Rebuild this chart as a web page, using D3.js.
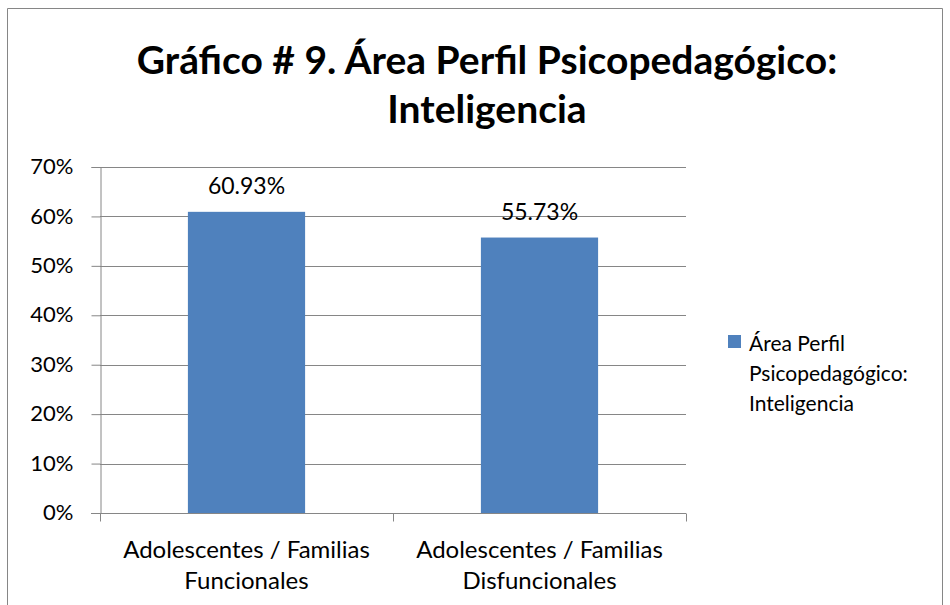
<!DOCTYPE html>
<meta charset="utf-8">
<script src="https://d3js.org/d3.v7.min.js"></script>
<style>
  body { margin: 0; background: #fff; }
  text { font-family: Lato, "Open Sans", sans-serif; fill: #000; }
</style>
<div id="chart"></div>
<script>

// data
var categories = ["Adolescentes / Familias Funcionales", "Adolescentes / Familias Disfuncionales"];
var categoryLines = [["Adolescentes / Familias", "Funcionales"], ["Adolescentes / Familias", "Disfuncionales"]];
var values = [60.93, 55.73];
var yTicks = [0, 10, 20, 30, 40, 50, 60, 70];
var seriesName = ["Área Perfil", "Psicopedagógico:", "Inteligencia"];
var titleLines = ["Gráfico # 9. Área Perfil Psicopedagógico:", "Inteligencia"];

var W = 950, H = 605;
var margin = {top: 167, right: 264, bottom: 92, left: 100},
    width = 686 - margin.left,
    height = 513 - margin.top;

var svg = d3.select("#chart")
  .append("svg")
    .attr("width", W)
    .attr("height", H);

// outer chart border
svg.append("path")
  .attr("d", "M7.5,605 V8.5 H942.5 V605")
  .attr("fill", "none")
  .attr("stroke", "#868686")
  .attr("stroke-width", 1);

// title
svg.append("text")
  .attr("text-anchor", "middle")
  .style("font-size", "39px").style("font-weight", "bold")
  .selectAll("tspan")
  .data(titleLines)
  .join("tspan")
    .attr("x", 487)
    .attr("y", function(d, i) { return 74 + i * 49; })
    .text(function(d) { return d; });

var g = svg.append("g")
  .attr("transform", "translate(" + margin.left + "," + margin.top + ")");

var x = d3.scaleBand()
  .domain(categories)
  .range([0, width])
  .paddingInner(0.6)
  .paddingOuter(0.3);

var y = d3.scaleLinear()
  .domain([0, 70])
  .range([height, 0]);

// gridlines
g.append("g")
  .selectAll("line")
  .data(yTicks)
  .join("line")
    .attr("x1", 0).attr("x2", width)
    .attr("y1", function(d) { return Math.round(y(d)) + 0.5; })
    .attr("y2", function(d) { return Math.round(y(d)) + 0.5; })
    .attr("stroke", "#868686");

// y axis
var yAxis = g.append("g")
  .attr("transform", "translate(0.5,0)")
  .call(d3.axisLeft(y).tickValues(yTicks).tickSize(9).tickPadding(18)
    .tickFormat(function(d) { return d + "%"; }));
yAxis.selectAll("line, path").attr("stroke", "#868686");
yAxis.selectAll("text").style("font-size", "22px").style("font-family", "Lato").attr("dy", "0.3em");

// bars
g.selectAll("rect")
  .data(values)
  .join("rect")
    .attr("x", function(d, i) { return x(categories[i]); })
    .attr("y", function(d) { return y(d); })
    .attr("width", x.bandwidth())
    .attr("height", function(d) { return height - y(d); })
    .attr("fill", "#4F81BD");

// value labels
g.selectAll(".lbl")
  .data(values)
  .join("text")
    .attr("class", "lbl")
    .attr("x", function(d, i) { return x(categories[i]) + x.bandwidth() / 2; })
    .attr("y", function(d) { return y(d) - 18; })
    .attr("text-anchor", "middle")
    .style("font-size", "23px")
    .text(function(d) { return d.toFixed(2) + "%"; });

// x axis: line and tick marks at category boundaries
var xb = g.append("g").attr("transform", "translate(0," + (height + 0.5) + ")");
xb.append("line").attr("x1", -9).attr("x2", width).attr("stroke", "#868686");
xb.selectAll(".tk")
  .data([0, width / 2, width])
  .join("line")
    .attr("class", "tk")
    .attr("x1", function(d) { return Math.round(d) + 0.5; })
    .attr("x2", function(d) { return Math.round(d) + 0.5; })
    .attr("y1", 0).attr("y2", 8)
    .attr("stroke", "#868686");

xb.selectAll(".cat")
  .data(categories)
  .join("text")
    .attr("class", "cat")
    .attr("text-anchor", "middle")
    .style("font-size", "24px")
    .each(function(d, i) {
      d3.select(this).selectAll("tspan")
        .data(categoryLines[i])
        .join("tspan")
          .attr("x", x(d) + x.bandwidth() / 2)
          .attr("y", function(s, j) { return 44 + j * 31; })
          .text(function(s) { return s; });
    });

// legend
var lg = svg.append("g").attr("transform", "translate(728,335)");
lg.append("rect").attr("width", 13).attr("height", 13).attr("fill", "#4F81BD");
lg.append("text")
  .style("font-size", "21px")
  .selectAll("tspan")
  .data(seriesName)
  .join("tspan")
    .attr("x", 21)
    .attr("y", function(d, i) { return 16 + i * 30; })
    .text(function(d) { return d; });

</script>
